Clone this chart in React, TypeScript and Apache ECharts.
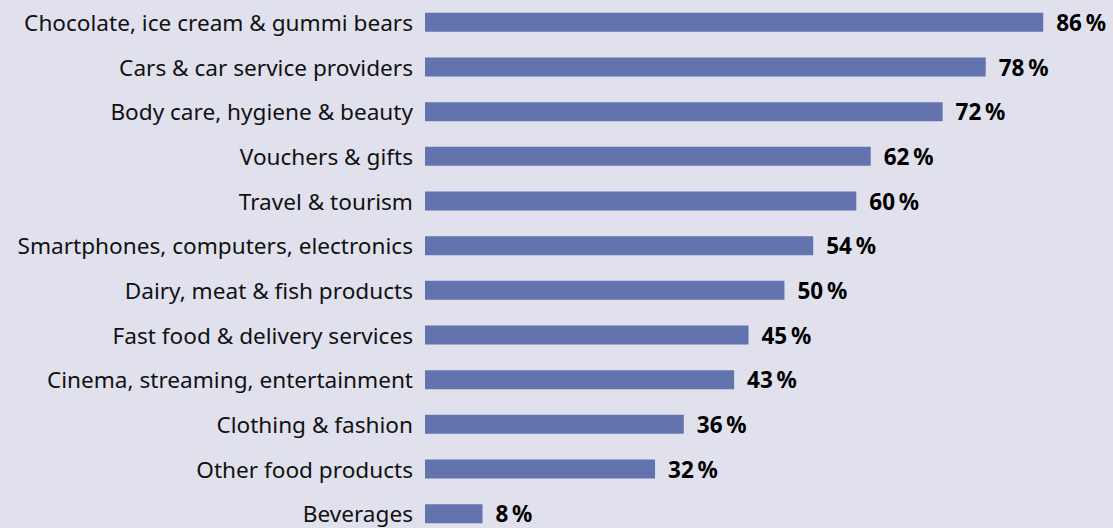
import React, { useEffect, useRef } from "react";
import * as echarts from "echarts";

const categories = [
  "Chocolate, ice cream & gummi bears",
  "Cars & car service providers",
  "Body care, hygiene & beauty",
  "Vouchers & gifts",
  "Travel & tourism",
  "Smartphones, computers, electronics",
  "Dairy, meat & fish products",
  "Fast food & delivery services",
  "Cinema, streaming, entertainment",
  "Clothing & fashion",
  "Other food products",
  "Beverages",
];
const values = [86, 78, 72, 62, 60, 54, 50, 45, 43, 36, 32, 8];

export default function App() {
  const ref = useRef<HTMLDivElement>(null);
  useEffect(() => {
    if (!ref.current) return;
    const chart = echarts.init(ref.current, null, { renderer: "svg" });
    chart.setOption({
      animation: false,
      backgroundColor: "#e1e1ee",
      grid: { left: 425, right: 41, top: -1, height: 537, containLabel: false },
      xAxis: {
        type: "value",
        min: 0,
        max: 90,
        show: false,
      },
      yAxis: {
        type: "category",
        data: categories,
        inverse: true,
        axisLine: { show: false },
        axisTick: { show: false },
        splitLine: { show: false },
        axisLabel: {
          margin: 12,
          color: "#111111",
          fontSize: 22.6,
          lineHeight: 20,
          fontFamily: "Noto Sans",
        },
      },
      series: [
        {
          type: "bar",
          data: values,
          barWidth: 19,
          itemStyle: { color: "#6373ad" },
          label: {
            show: true,
            position: "right",
            distance: 13,
            color: "#000000",
            fontSize: 22.5,
            lineHeight: 16,
            fontWeight: "bold",
            fontFamily: "Noto Sans",
            formatter: (p: any) => `${p.value}\u2009%`,
          },
        },
      ],
    });
    return () => chart.dispose();
  }, []);
  return (
    <div
      style={{
        position: "absolute",
        left: 0,
        top: 0,
        width: 1113,
        height: 528,
        overflow: "hidden",
        background: "#e1e1ee",
      }}
    >
      <div ref={ref} style={{ width: 1113, height: 548 }} />
    </div>
  );
}
